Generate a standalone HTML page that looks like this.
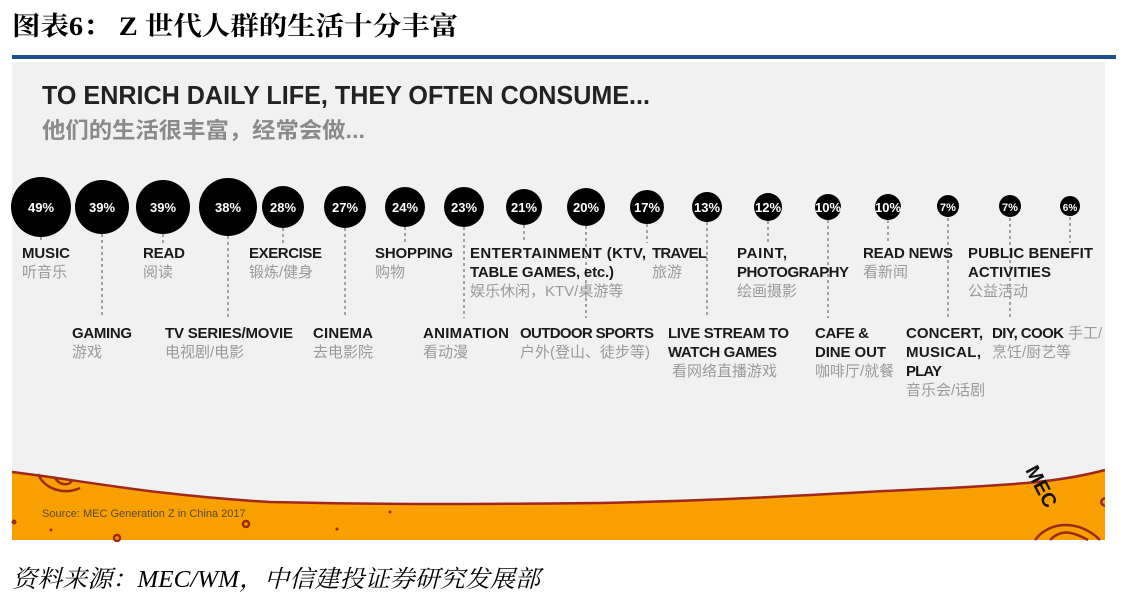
<!DOCTYPE html>
<html><head><meta charset="utf-8"><style>
html,body{margin:0;padding:0;background:#fff;}
body{width:1130px;height:607px;overflow:hidden;}
</style></head><body>
<svg width="1130" height="607" viewBox="0 0 1130 607" xmlns="http://www.w3.org/2000/svg">
<text x="12" y="35" font-family="Liberation Serif, Noto Serif CJK SC, serif" font-weight="bold" font-size="26" fill="#000" textLength="446" lengthAdjust="spacingAndGlyphs">图表6：  Z 世代人群的生活十分丰富</text>
<rect x="12" y="55" width="1104" height="4" fill="#1f4e8c"/>
<rect x="12" y="62" width="1093" height="478" fill="#f1f1f1"/>
<path d="M12,472 C80,480 150,495 270,502 C400,505 500,504 600,503 C750,500 850,492 950,488 C1020,484 1060,482 1105,470 L1105,540 L12,540 Z" fill="#f7a000"/>
<path d="M12,472 C80,480 150,495 270,502 C400,505 500,504 600,503 C750,500 850,492 950,488 C1020,484 1060,482 1105,470" fill="none" stroke="#a0281a" stroke-width="2.5"/>
<g fill="none" stroke="#a0281a" stroke-width="2.5">
<path d="M38,474 C45,490 65,495 80,488"/><path d="M55,478 C60,486 70,486 72,480"/>
<circle cx="246" cy="524" r="3"/><circle cx="117" cy="538" r="3"/>
<path d="M1100,540 C1080,520 1050,520 1035,540"/><path d="M1088,540 C1070,530 1060,530 1050,540"/>
<path d="M1105,498 C1100,500 1100,504 1105,506"/>
</g>
<g fill="#a0281a"><circle cx="14" cy="522" r="2.5"/><circle cx="51" cy="530" r="1.5"/><circle cx="337" cy="529" r="1.5"/><circle cx="390" cy="512" r="1.5"/></g>
<text x="42" y="517" font-family="Liberation Sans, sans-serif" font-size="11" fill="#5a4a30">Source: MEC Generation Z in China 2017</text>
<text x="1025" y="470" transform="rotate(62 1025 470)" font-family="Liberation Sans, sans-serif" font-weight="bold" font-size="20" fill="#111">MEC</text>
<text x="42" y="104" font-family="Liberation Sans, sans-serif" font-weight="bold" font-size="26" fill="#222" textLength="608" lengthAdjust="spacingAndGlyphs">TO ENRICH DAILY LIFE, THEY OFTEN CONSUME...</text>
<text x="42" y="138" font-family="Liberation Sans, Noto Sans CJK SC, sans-serif" font-weight="bold" font-size="22" fill="#8a8a8a" textLength="323" lengthAdjust="spacingAndGlyphs">他们的生活很丰富，经常会做...</text>
<g stroke="#888" stroke-width="1.5" stroke-dasharray="3,3">
<line x1="41" y1="237" x2="41" y2="243"/><line x1="102" y1="234" x2="102" y2="318"/>
<line x1="163" y1="234" x2="163" y2="243"/><line x1="228" y1="236" x2="228" y2="318"/>
<line x1="283" y1="228" x2="283" y2="243"/><line x1="345" y1="228" x2="345" y2="318"/>
<line x1="405" y1="227" x2="405" y2="243"/><line x1="464" y1="227" x2="464" y2="318"/>
<line x1="524" y1="225" x2="524" y2="243"/><line x1="586" y1="226" x2="586" y2="318"/>
<line x1="647" y1="224" x2="647" y2="243"/><line x1="707" y1="222" x2="707" y2="318"/>
<line x1="768" y1="221" x2="768" y2="243"/><line x1="828" y1="220" x2="828" y2="318"/>
<line x1="888" y1="220" x2="888" y2="243"/><line x1="948" y1="218" x2="948" y2="318"/>
<line x1="1010" y1="218" x2="1010" y2="318"/><line x1="1070" y1="217" x2="1070" y2="243"/>
</g>
<g fill="#000">
<circle cx="41" cy="207" r="30"/><circle cx="102" cy="207" r="27"/><circle cx="163" cy="207" r="27"/>
<circle cx="228" cy="207" r="29"/><circle cx="283" cy="207" r="21"/><circle cx="345" cy="207" r="21"/>
<circle cx="405" cy="207" r="20"/><circle cx="464" cy="207" r="20"/><circle cx="524" cy="207" r="18"/>
<circle cx="586" cy="207" r="19"/><circle cx="647" cy="207" r="17"/><circle cx="707" cy="207" r="15"/>
<circle cx="768" cy="207" r="14"/><circle cx="828" cy="207" r="13"/><circle cx="888" cy="207" r="13"/>
<circle cx="948" cy="206" r="11"/><circle cx="1010" cy="206" r="11"/><circle cx="1070" cy="206" r="10"/>
</g>
<g fill="#fff" font-family="Liberation Sans, sans-serif" font-weight="bold" font-size="13" text-anchor="middle">
<text x="41" y="212">49%</text><text x="102" y="212">39%</text><text x="163" y="212">39%</text>
<text x="228" y="212">38%</text><text x="283" y="212">28%</text><text x="345" y="212">27%</text>
<text x="405" y="212">24%</text><text x="464" y="212">23%</text><text x="524" y="212">21%</text>
<text x="586" y="212">20%</text><text x="647" y="212">17%</text><text x="707" y="212">13%</text>
<text x="768" y="212">12%</text><text x="828" y="212">10%</text><text x="888" y="212">10%</text>
<text x="948" y="211" font-size="11">7%</text><text x="1010" y="211" font-size="11">7%</text><text x="1070" y="211" font-size="10">6%</text>
</g>
<g font-family="Liberation Sans, sans-serif" font-weight="bold" font-size="15" fill="#1a1a1a" lengthAdjust="spacingAndGlyphs">
<text x="22" y="258" textLength="48">MUSIC</text>
<text x="143" y="258" textLength="42">READ</text>
<text x="249" y="258" textLength="73">EXERCISE</text>
<text x="375" y="258" textLength="78">SHOPPING</text>
<text x="470" y="258" textLength="176">ENTERTAINMENT (KTV,</text>
<text x="470" y="277" textLength="144">TABLE GAMES, etc.)</text>
<text x="652" y="258" textLength="55">TRAVEL</text>
<text x="737" y="258" textLength="50">PAINT,</text>
<text x="737" y="277" textLength="112">PHOTOGRAPHY</text>
<text x="863" y="258" textLength="90">READ NEWS</text>
<text x="968" y="258" textLength="125">PUBLIC BENEFIT</text>
<text x="968" y="277" textLength="83">ACTIVITIES</text>
<text x="72" y="338" textLength="60">GAMING</text>
<text x="165" y="338" textLength="128">TV SERIES/MOVIE</text>
<text x="313" y="338" textLength="60">CINEMA</text>
<text x="423" y="338" textLength="86">ANIMATION</text>
<text x="520" y="338" textLength="134">OUTDOOR SPORTS</text>
<text x="668" y="338" textLength="121">LIVE STREAM TO</text>
<text x="668" y="357" textLength="109">WATCH GAMES</text>
<text x="815" y="338" textLength="54">CAFE &amp;</text>
<text x="815" y="357" textLength="71">DINE OUT</text>
<text x="906" y="338" textLength="77">CONCERT,</text>
<text x="906" y="357" textLength="75">MUSICAL,</text>
<text x="906" y="376" textLength="36">PLAY</text>
<text x="992" y="338" textLength="72">DIY, COOK</text>
</g>
<g font-family="Liberation Sans, Noto Sans CJK SC, sans-serif" font-size="15" fill="#9a9a9a">
<text x="22" y="277">听音乐</text><text x="143" y="277">阅读</text><text x="249" y="277">锻炼/健身</text>
<text x="375" y="277">购物</text><text x="470" y="296">娱乐休闲，KTV/桌游等</text><text x="652" y="277">旅游</text>
<text x="737" y="296">绘画摄影</text><text x="863" y="277">看新闻</text><text x="968" y="296">公益活动</text>
<text x="72" y="357">游戏</text><text x="165" y="357">电视剧/电影</text><text x="313" y="357">去电影院</text>
<text x="423" y="357">看动漫</text><text x="520" y="357">户外(登山、徒步等)</text><text x="672" y="376">看网络直播游戏</text>
<text x="815" y="376">咖啡厅/就餐</text><text x="906" y="395">音乐会/话剧</text><text x="992" y="357">烹饪/厨艺等</text>
<text x="1068" y="338">手工/</text>
</g>
<rect x="1105" y="62" width="25" height="480" fill="#fff"/>
<text x="12" y="587" font-family="Liberation Serif, Noto Serif CJK SC, serif" font-style="italic" font-size="24" fill="#000" textLength="528" lengthAdjust="spacingAndGlyphs">资料来源：MEC/WM，中信建投证券研究发展部</text>
</svg>
</body></html>
